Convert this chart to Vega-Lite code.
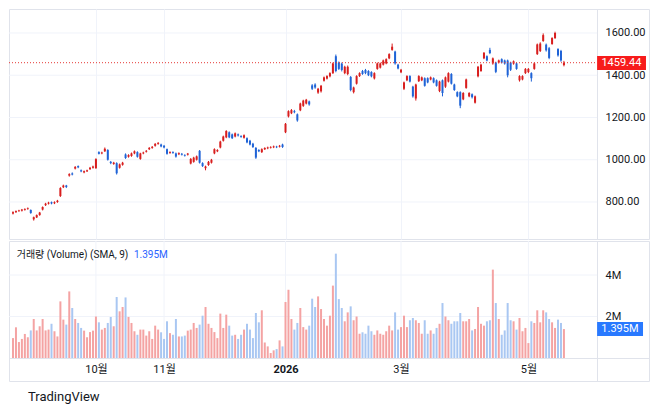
{
"$schema": "https://vega.github.io/schema/vega-lite/v6.json",
"padding": {"left": 8, "top": 8, "right": 0, "bottom": 0},
"background": "#ffffff",
"spacing": 0,
"config": {
  "view": {"stroke": "#e0e3eb", "strokeWidth": 1},
  "font": "Roboto, 'Noto Sans CJK KR', sans-serif",
  "axis": {"labelColor": "#131722", "labelFontSize": 11, "labelFont": "Roboto, 'Noto Sans CJK KR', sans-serif", "gridColor": "#f0f3fa", "gridWidth": 1, "domain": false, "ticks": false, "title": null, "domainColor": "#e0e3eb"}
},
"title": {"text": "TradingView", "orient": "bottom", "anchor": "start", "frame": "bounds", "fontSize": 13, "fontWeight": "normal", "color": "#131722", "dx": 20, "offset": 9, "font": "Roboto, sans-serif"},
"data": {"values": [
{"i":0,"o":745,"h":756,"l":741,"c":752,"v":0.96},
{"i":1,"o":752,"h":760,"l":748,"c":757,"v":1.48},
{"i":2,"o":757,"h":763,"l":753,"c":760,"v":0.77},
{"i":3,"o":759,"h":767,"l":755,"c":764,"v":0.92},
{"i":4,"o":763,"h":770,"l":759,"c":767,"v":1.16},
{"i":5,"o":767,"h":774,"l":763,"c":770,"v":1.0},
{"i":6,"o":762,"h":765,"l":744,"c":748,"v":1.33},
{"i":7,"o":718,"h":731,"l":712,"c":728,"v":1.88},
{"i":8,"o":727,"h":741,"l":724,"c":738,"v":1.33},
{"i":9,"o":738,"h":753,"l":735,"c":750,"v":1.53},
{"i":10,"o":764,"h":779,"l":760,"c":776,"v":1.88},
{"i":11,"o":785,"h":796,"l":781,"c":792,"v":1.33},
{"i":12,"o":792,"h":801,"l":788,"c":797,"v":1.37},
{"i":13,"o":799,"h":802,"l":789,"c":793,"v":1.65},
{"i":14,"o":794,"h":803,"l":790,"c":799,"v":1.29},
{"i":15,"o":800,"h":810,"l":796,"c":806,"v":1.04},
{"i":16,"o":828,"h":870,"l":824,"c":866,"v":2.73},
{"i":17,"o":870,"h":882,"l":866,"c":878,"v":1.85},
{"i":18,"o":878,"h":881,"l":866,"c":871,"v":1.61},
{"i":19,"o":925,"h":936,"l":920,"c":932,"v":3.21},
{"i":20,"o":935,"h":940,"l":926,"c":930,"v":2.41},
{"i":21,"o":958,"h":970,"l":954,"c":966,"v":1.88},
{"i":22,"o":970,"h":973,"l":960,"c":964,"v":1.69},
{"i":23,"o":950,"h":954,"l":941,"c":945,"v":1.45},
{"i":24,"o":940,"h":949,"l":936,"c":946,"v":1.32},
{"i":25,"o":945,"h":953,"l":942,"c":950,"v":1.0},
{"i":26,"o":955,"h":966,"l":952,"c":962,"v":1.25},
{"i":27,"o":962,"h":972,"l":958,"c":968,"v":1.32},
{"i":28,"o":960,"h":1007,"l":957,"c":1003,"v":2.0},
{"i":29,"o":1036,"h":1040,"l":1025,"c":1028,"v":1.72},
{"i":30,"o":1030,"h":1038,"l":1026,"c":1034,"v":1.37},
{"i":31,"o":1040,"h":1058,"l":1037,"c":1052,"v":1.45},
{"i":32,"o":1046,"h":1050,"l":996,"c":1000,"v":1.69},
{"i":33,"o":990,"h":994,"l":979,"c":984,"v":1.98},
{"i":34,"o":980,"h":990,"l":976,"c":986,"v":1.53},
{"i":35,"o":984,"h":988,"l":930,"c":936,"v":2.94},
{"i":36,"o":962,"h":982,"l":958,"c":978,"v":2.25},
{"i":37,"o":976,"h":990,"l":972,"c":986,"v":2.46},
{"i":38,"o":1025,"h":1030,"l":1004,"c":1008,"v":2.92},
{"i":39,"o":1014,"h":1026,"l":1010,"c":1022,"v":1.98},
{"i":40,"o":1018,"h":1034,"l":1014,"c":1030,"v":1.69},
{"i":41,"o":1030,"h":1044,"l":1026,"c":1040,"v":1.29},
{"i":42,"o":1036,"h":1040,"l":1010,"c":1014,"v":1.12},
{"i":43,"o":1004,"h":1033,"l":1000,"c":1030,"v":1.37},
{"i":44,"o":1030,"h":1038,"l":1026,"c":1034,"v":1.37},
{"i":45,"o":1038,"h":1046,"l":1034,"c":1042,"v":1.08},
{"i":46,"o":1050,"h":1060,"l":1046,"c":1056,"v":1.29},
{"i":47,"o":1056,"h":1065,"l":1052,"c":1061,"v":0.92},
{"i":48,"o":1066,"h":1079,"l":1062,"c":1075,"v":1.56},
{"i":49,"o":1075,"h":1084,"l":1071,"c":1079,"v":1.37},
{"i":50,"o":1072,"h":1076,"l":1059,"c":1063,"v":1.24},
{"i":51,"o":1066,"h":1070,"l":1054,"c":1058,"v":0.92},
{"i":52,"o":1050,"h":1053,"l":1024,"c":1028,"v":1.77},
{"i":53,"o":1032,"h":1040,"l":1028,"c":1036,"v":1.2},
{"i":54,"o":1036,"h":1040,"l":1028,"c":1032,"v":1.12},
{"i":55,"o":1030,"h":1034,"l":1010,"c":1015,"v":1.88},
{"i":56,"o":1026,"h":1035,"l":1022,"c":1031,"v":1.04},
{"i":57,"o":1028,"h":1032,"l":1020,"c":1024,"v":1.04},
{"i":58,"o":1022,"h":1026,"l":1015,"c":1019,"v":1.08},
{"i":59,"o":1024,"h":1032,"l":1020,"c":1029,"v":1.32},
{"i":60,"o":982,"h":1008,"l":978,"c":1004,"v":1.37},
{"i":61,"o":990,"h":1014,"l":986,"c":1010,"v":1.69},
{"i":62,"o":1000,"h":1020,"l":996,"c":1016,"v":1.45},
{"i":63,"o":1042,"h":1046,"l":982,"c":986,"v":1.61},
{"i":64,"o":984,"h":988,"l":966,"c":970,"v":2.04},
{"i":65,"o":960,"h":972,"l":950,"c":968,"v":2.46},
{"i":66,"o":975,"h":994,"l":971,"c":990,"v":1.65},
{"i":67,"o":986,"h":1004,"l":982,"c":1000,"v":1.45},
{"i":68,"o":1030,"h":1054,"l":1026,"c":1050,"v":1.25},
{"i":69,"o":1040,"h":1050,"l":1036,"c":1046,"v":0.96},
{"i":70,"o":1058,"h":1090,"l":1054,"c":1086,"v":2.14},
{"i":71,"o":1090,"h":1114,"l":1086,"c":1110,"v":1.45},
{"i":72,"o":1106,"h":1140,"l":1102,"c":1136,"v":2.09},
{"i":73,"o":1130,"h":1134,"l":1102,"c":1106,"v":1.56},
{"i":74,"o":1120,"h":1124,"l":1098,"c":1102,"v":1.08},
{"i":75,"o":1110,"h":1129,"l":1106,"c":1125,"v":1.12},
{"i":76,"o":1120,"h":1124,"l":1110,"c":1115,"v":0.92},
{"i":77,"o":1112,"h":1116,"l":1104,"c":1108,"v":1.12},
{"i":78,"o":1104,"h":1120,"l":1100,"c":1116,"v":1.37},
{"i":79,"o":1102,"h":1106,"l":1078,"c":1082,"v":1.65},
{"i":80,"o":1090,"h":1094,"l":1068,"c":1072,"v":1.37},
{"i":81,"o":1076,"h":1080,"l":1056,"c":1060,"v":0.96},
{"i":82,"o":1056,"h":1060,"l":1004,"c":1010,"v":2.17},
{"i":83,"o":1046,"h":1050,"l":1036,"c":1040,"v":1.72},
{"i":84,"o":1036,"h":1054,"l":1032,"c":1050,"v":2.3},
{"i":85,"o":1050,"h":1059,"l":1046,"c":1055,"v":0.75},
{"i":86,"o":1054,"h":1062,"l":1050,"c":1058,"v":0.56},
{"i":87,"o":1057,"h":1064,"l":1053,"c":1060,"v":0.24},
{"i":88,"o":1059,"h":1067,"l":1055,"c":1063,"v":0.37},
{"i":89,"o":1062,"h":1066,"l":1055,"c":1059,"v":0.43},
{"i":90,"o":1062,"h":1070,"l":1058,"c":1066,"v":0.85},
{"i":91,"o":1072,"h":1076,"l":1056,"c":1060,"v":0.56},
{"i":92,"o":1130,"h":1174,"l":1126,"c":1170,"v":2.7},
{"i":93,"o":1205,"h":1234,"l":1200,"c":1230,"v":3.29},
{"i":94,"o":1220,"h":1240,"l":1216,"c":1235,"v":1.88},
{"i":95,"o":1230,"h":1236,"l":1220,"c":1225,"v":1.37},
{"i":96,"o":1215,"h":1219,"l":1180,"c":1186,"v":1.69},
{"i":97,"o":1234,"h":1270,"l":1230,"c":1266,"v":2.41},
{"i":98,"o":1255,"h":1284,"l":1250,"c":1280,"v":1.49},
{"i":99,"o":1266,"h":1288,"l":1262,"c":1284,"v":1.37},
{"i":100,"o":1276,"h":1280,"l":1256,"c":1262,"v":1.56},
{"i":101,"o":1352,"h":1358,"l":1330,"c":1336,"v":2.86},
{"i":102,"o":1356,"h":1362,"l":1336,"c":1342,"v":2.46},
{"i":103,"o":1318,"h":1340,"l":1312,"c":1336,"v":2.97},
{"i":104,"o":1324,"h":1354,"l":1318,"c":1350,"v":2.36},
{"i":105,"o":1374,"h":1394,"l":1370,"c":1390,"v":1.88},
{"i":106,"o":1384,"h":1400,"l":1380,"c":1396,"v":1.56},
{"i":107,"o":1395,"h":1414,"l":1390,"c":1410,"v":2.04},
{"i":108,"o":1410,"h":1460,"l":1406,"c":1456,"v":3.49},
{"i":109,"o":1490,"h":1498,"l":1414,"c":1420,"v":5.03},
{"i":110,"o":1460,"h":1465,"l":1425,"c":1430,"v":2.84},
{"i":111,"o":1455,"h":1460,"l":1418,"c":1425,"v":2.41},
{"i":112,"o":1410,"h":1445,"l":1405,"c":1440,"v":1.77},
{"i":113,"o":1406,"h":1446,"l":1400,"c":1440,"v":2.2},
{"i":114,"o":1392,"h":1396,"l":1324,"c":1330,"v":2.49},
{"i":115,"o":1320,"h":1346,"l":1314,"c":1342,"v":1.82},
{"i":116,"o":1360,"h":1400,"l":1356,"c":1396,"v":2.0},
{"i":117,"o":1396,"h":1414,"l":1392,"c":1410,"v":1.17},
{"i":118,"o":1420,"h":1425,"l":1402,"c":1406,"v":1.24},
{"i":119,"o":1425,"h":1430,"l":1405,"c":1410,"v":1.17},
{"i":120,"o":1420,"h":1424,"l":1396,"c":1400,"v":1.56},
{"i":121,"o":1415,"h":1419,"l":1390,"c":1395,"v":1.29},
{"i":122,"o":1385,"h":1414,"l":1380,"c":1410,"v":1.12},
{"i":123,"o":1430,"h":1460,"l":1426,"c":1456,"v":1.33},
{"i":124,"o":1436,"h":1460,"l":1432,"c":1456,"v":1.17},
{"i":125,"o":1450,"h":1474,"l":1446,"c":1470,"v":1.12},
{"i":126,"o":1456,"h":1480,"l":1452,"c":1476,"v":1.29},
{"i":127,"o":1480,"h":1504,"l":1476,"c":1500,"v":1.56},
{"i":128,"o":1520,"h":1550,"l":1516,"c":1535,"v":1.33},
{"i":129,"o":1512,"h":1516,"l":1450,"c":1456,"v":2.2},
{"i":130,"o":1450,"h":1454,"l":1428,"c":1432,"v":1.37},
{"i":131,"o":1414,"h":1430,"l":1410,"c":1426,"v":1.49},
{"i":132,"o":1336,"h":1370,"l":1330,"c":1366,"v":2.04},
{"i":133,"o":1376,"h":1400,"l":1372,"c":1396,"v":1.49},
{"i":134,"o":1396,"h":1400,"l":1366,"c":1370,"v":1.82},
{"i":135,"o":1346,"h":1350,"l":1294,"c":1300,"v":1.93},
{"i":136,"o":1290,"h":1360,"l":1280,"c":1356,"v":1.82},
{"i":137,"o":1372,"h":1400,"l":1368,"c":1396,"v":1.69},
{"i":138,"o":1376,"h":1394,"l":1372,"c":1390,"v":1.17},
{"i":139,"o":1386,"h":1390,"l":1346,"c":1350,"v":1.82},
{"i":140,"o":1386,"h":1390,"l":1362,"c":1366,"v":1.17},
{"i":141,"o":1380,"h":1394,"l":1376,"c":1390,"v":1.33},
{"i":142,"o":1386,"h":1390,"l":1362,"c":1366,"v":1.17},
{"i":143,"o":1376,"h":1380,"l":1346,"c":1350,"v":1.45},
{"i":144,"o":1325,"h":1374,"l":1320,"c":1370,"v":1.65},
{"i":145,"o":1376,"h":1380,"l":1300,"c":1316,"v":2.65},
{"i":146,"o":1346,"h":1394,"l":1340,"c":1390,"v":2.0},
{"i":147,"o":1370,"h":1414,"l":1366,"c":1410,"v":1.82},
{"i":148,"o":1406,"h":1410,"l":1356,"c":1360,"v":1.65},
{"i":149,"o":1356,"h":1360,"l":1326,"c":1330,"v":1.77},
{"i":150,"o":1320,"h":1324,"l":1296,"c":1300,"v":1.77},
{"i":151,"o":1320,"h":1324,"l":1244,"c":1256,"v":2.17},
{"i":152,"o":1286,"h":1320,"l":1282,"c":1316,"v":1.77},
{"i":153,"o":1340,"h":1384,"l":1336,"c":1380,"v":1.77},
{"i":154,"o":1300,"h":1320,"l":1296,"c":1316,"v":1.88},
{"i":155,"o":1310,"h":1314,"l":1290,"c":1296,"v":1.33},
{"i":156,"o":1270,"h":1304,"l":1266,"c":1300,"v":1.4},
{"i":157,"o":1395,"h":1444,"l":1390,"c":1440,"v":2.46},
{"i":158,"o":1420,"h":1454,"l":1416,"c":1450,"v":1.65},
{"i":159,"o":1480,"h":1510,"l":1476,"c":1506,"v":1.56},
{"i":160,"o":1490,"h":1494,"l":1466,"c":1470,"v":1.77},
{"i":161,"o":1520,"h":1530,"l":1500,"c":1505,"v":1.82},
{"i":162,"o":1456,"h":1484,"l":1450,"c":1480,"v":4.26},
{"i":163,"o":1460,"h":1464,"l":1410,"c":1416,"v":2.65},
{"i":164,"o":1460,"h":1474,"l":1456,"c":1470,"v":1.88},
{"i":165,"o":1476,"h":1480,"l":1456,"c":1460,"v":1.12},
{"i":166,"o":1470,"h":1474,"l":1450,"c":1455,"v":1.33},
{"i":167,"o":1470,"h":1474,"l":1390,"c":1400,"v":2.65},
{"i":168,"o":1460,"h":1464,"l":1420,"c":1426,"v":1.82},
{"i":169,"o":1455,"h":1470,"l":1450,"c":1466,"v":1.77},
{"i":170,"o":1456,"h":1460,"l":1426,"c":1430,"v":1.37},
{"i":171,"o":1376,"h":1400,"l":1370,"c":1396,"v":1.93},
{"i":172,"o":1380,"h":1400,"l":1376,"c":1396,"v":1.29},
{"i":173,"o":1410,"h":1434,"l":1406,"c":1430,"v":1.45},
{"i":174,"o":1415,"h":1434,"l":1410,"c":1430,"v":0.72},
{"i":175,"o":1410,"h":1414,"l":1370,"c":1386,"v":1.77},
{"i":176,"o":1430,"h":1460,"l":1426,"c":1456,"v":1.69},
{"i":177,"o":1500,"h":1550,"l":1496,"c":1546,"v":2.3},
{"i":178,"o":1515,"h":1556,"l":1510,"c":1550,"v":1.72},
{"i":179,"o":1562,"h":1598,"l":1558,"c":1590,"v":2.3},
{"i":180,"o":1545,"h":1550,"l":1512,"c":1518,"v":2.2},
{"i":181,"o":1528,"h":1534,"l":1476,"c":1482,"v":1.88},
{"i":182,"o":1548,"h":1580,"l":1544,"c":1576,"v":1.72},
{"i":183,"o":1576,"h":1606,"l":1572,"c":1600,"v":1.45},
{"i":184,"o":1524,"h":1528,"l":1488,"c":1494,"v":1.85},
{"i":185,"o":1515,"h":1520,"l":1464,"c":1470,"v":1.69},
{"i":186,"o":1448,"h":1468,"l":1442,"c":1459.44,"v":1.395}
]},
"vconcat": [
  {
    "width": 640,
    "height": 230,
    "layer": [
      {
        "data": {"values": [{"g": 800}, {"g": 1000}, {"g": 1200}, {"g": 1400}, {"g": 1600}]},
        "mark": {"type": "rule", "color": "#f0f3fa", "strokeWidth": 1},
        "encoding": {
          "y": {"field": "g", "type": "quantitative"},
          "x": {"datum": -1.35, "type": "quantitative"},
          "x2": {"datum": 197.2}
        }
      },
      {
        "mark": {"type": "rule", "strokeWidth": 1},
        "encoding": {
          "x": {"field": "i", "type": "quantitative", "scale": {"domain": [-1.35, 214.72], "nice": false, "zero": false, "padding": 0},
                "axis": {"values": [28, 51, 92, 131, 174], "labels": false, "grid": true, "orient": "bottom"}},
          "y": {"field": "l", "type": "quantitative", "scale": {"domain": [624.8, 1713.6], "nice": false, "zero": false, "padding": 0},
                "axis": {"orient": "right", "offset": -52, "values": [800, 1000, 1200, 1400, 1600], "format": ".2f", "labelPadding": 8, "grid": false, "domain": true}},
          "y2": {"field": "h"},
          "color": {"condition": {"test": "datum.c >= datum.o", "value": "#d81e1e"}, "value": "#1f63d6"}
        }
      },
      {
        "mark": {"type": "bar", "size": 2, "orient": "vertical"},
        "encoding": {
          "x": {"field": "i", "type": "quantitative"},
          "y": {"field": "o", "type": "quantitative"},
          "y2": {"field": "c"},
          "color": {"condition": {"test": "datum.c >= datum.o", "value": "#d81e1e"}, "value": "#1f63d6"}
        }
      },
      {
        "data": {"values": [{"last": 1459.44, "lo": 1425, "hi": 1491, "x0": -1.35, "bx": 197.2, "bx2": 213.7, "tx": 205.4, "label": "1459.44"}]},
        "layer": [
          {
            "mark": {"type": "rule", "color": "#e53935", "strokeDash": [1, 2], "strokeWidth": 1},
            "encoding": {"y": {"field": "last", "type": "quantitative"}, "x": {"field": "x0", "type": "quantitative"}, "x2": {"field": "bx"}}
          },
          {
            "mark": {"type": "rect", "color": "#f71b1b"},
            "encoding": {
              "x": {"field": "bx", "type": "quantitative"}, "x2": {"field": "bx2"},
              "y": {"field": "lo", "type": "quantitative"}, "y2": {"field": "hi"}
            }
          },
          {
            "mark": {"type": "text", "color": "#ffffff", "fontSize": 11, "align": "center", "baseline": "middle"},
            "encoding": {
              "x": {"field": "tx", "type": "quantitative"},
              "y": {"field": "last", "type": "quantitative"},
              "text": {"field": "label"}
            }
          }
        ]
      }
    ]
  },
  {
    "width": 640,
    "height": 140,
    "layer": [
      {
        "data": {"values": [{"g": 2}, {"g": 4}]},
        "mark": {"type": "rule", "color": "#f0f3fa", "strokeWidth": 1},
        "encoding": {
          "y": {"field": "g", "type": "quantitative"},
          "x": {"datum": -1.35, "type": "quantitative"},
          "x2": {"datum": 197.2}
        }
      },
      {
        "data": {"values": [{"m": 28}, {"m": 51}, {"m": 92}, {"m": 131}, {"m": 174}]},
        "mark": {"type": "rule", "color": "#f0f3fa", "strokeWidth": 1},
        "encoding": {
          "x": {"field": "m", "type": "quantitative"},
          "y": {"datum": 0, "type": "quantitative"},
          "y2": {"datum": 5.64}
        }
      },
      {
        "mark": {"type": "bar", "size": 2, "orient": "vertical"},
        "encoding": {
          "x": {"field": "i", "type": "quantitative", "scale": {"domain": [-1.35, 214.72], "nice": false, "zero": false, "padding": 0},
                "axis": {"values": [28, 51, 92, 131, 174], "grid": false, "offset": -23, "domain": true, "labelPadding": 5,
                         "labelExpr": "datum.value == 28 ? '10월' : datum.value == 51 ? '11월' : datum.value == 92 ? '2026' : datum.value == 131 ? '3월' : '5월'",
                         "labelFontWeight": {"condition": {"test": "datum.value == 92", "value": "bold"}, "value": "normal"}}},
          "y": {"field": "v", "type": "quantitative", "scale": {"domain": [-1.108, 5.64], "nice": false, "zero": false, "padding": 0},
                "axis": {"orient": "right", "offset": -52, "values": [2, 4], "labelExpr": "datum.value + 'M'", "labelPadding": 8, "grid": false, "domain": true}},
          "y2": {"datum": 0},
          "color": {"condition": {"test": "datum.c >= datum.o", "value": "#f4a3a3"}, "value": "#a9c7f2"}
        }
      },
      {
        "data": {"values": [{"t1": "거래량 (Volume) (SMA, 9)", "t2": "1.395M", "x1": 1.25, "x2": 40.85, "ty": 4.96, "v": 1.395, "lo": 1.06, "hi": 1.735, "bx": 197.2, "bx2": 212.7, "tx": 204.9}]},
        "layer": [
          {
            "mark": {"type": "text", "align": "left", "baseline": "middle", "fontSize": 10, "color": "#131722"},
            "encoding": {"x": {"field": "x1", "type": "quantitative"}, "y": {"field": "ty", "type": "quantitative"}, "text": {"field": "t1"}}
          },
          {
            "mark": {"type": "text", "align": "left", "baseline": "middle", "fontSize": 10, "color": "#2962ff"},
            "encoding": {"x": {"field": "x2", "type": "quantitative"}, "y": {"field": "ty", "type": "quantitative"}, "text": {"field": "t2"}}
          },
          {
            "mark": {"type": "rect", "color": "#2979ff"},
            "encoding": {"x": {"field": "bx", "type": "quantitative"}, "x2": {"field": "bx2"}, "y": {"field": "lo", "type": "quantitative"}, "y2": {"field": "hi"}}
          },
          {
            "mark": {"type": "text", "color": "#ffffff", "fontSize": 11, "align": "center", "baseline": "middle"},
            "encoding": {"x": {"field": "tx", "type": "quantitative"}, "y": {"field": "v", "type": "quantitative"}, "text": {"field": "t2"}}
          }
        ]
      }
    ]
  }
]
}
